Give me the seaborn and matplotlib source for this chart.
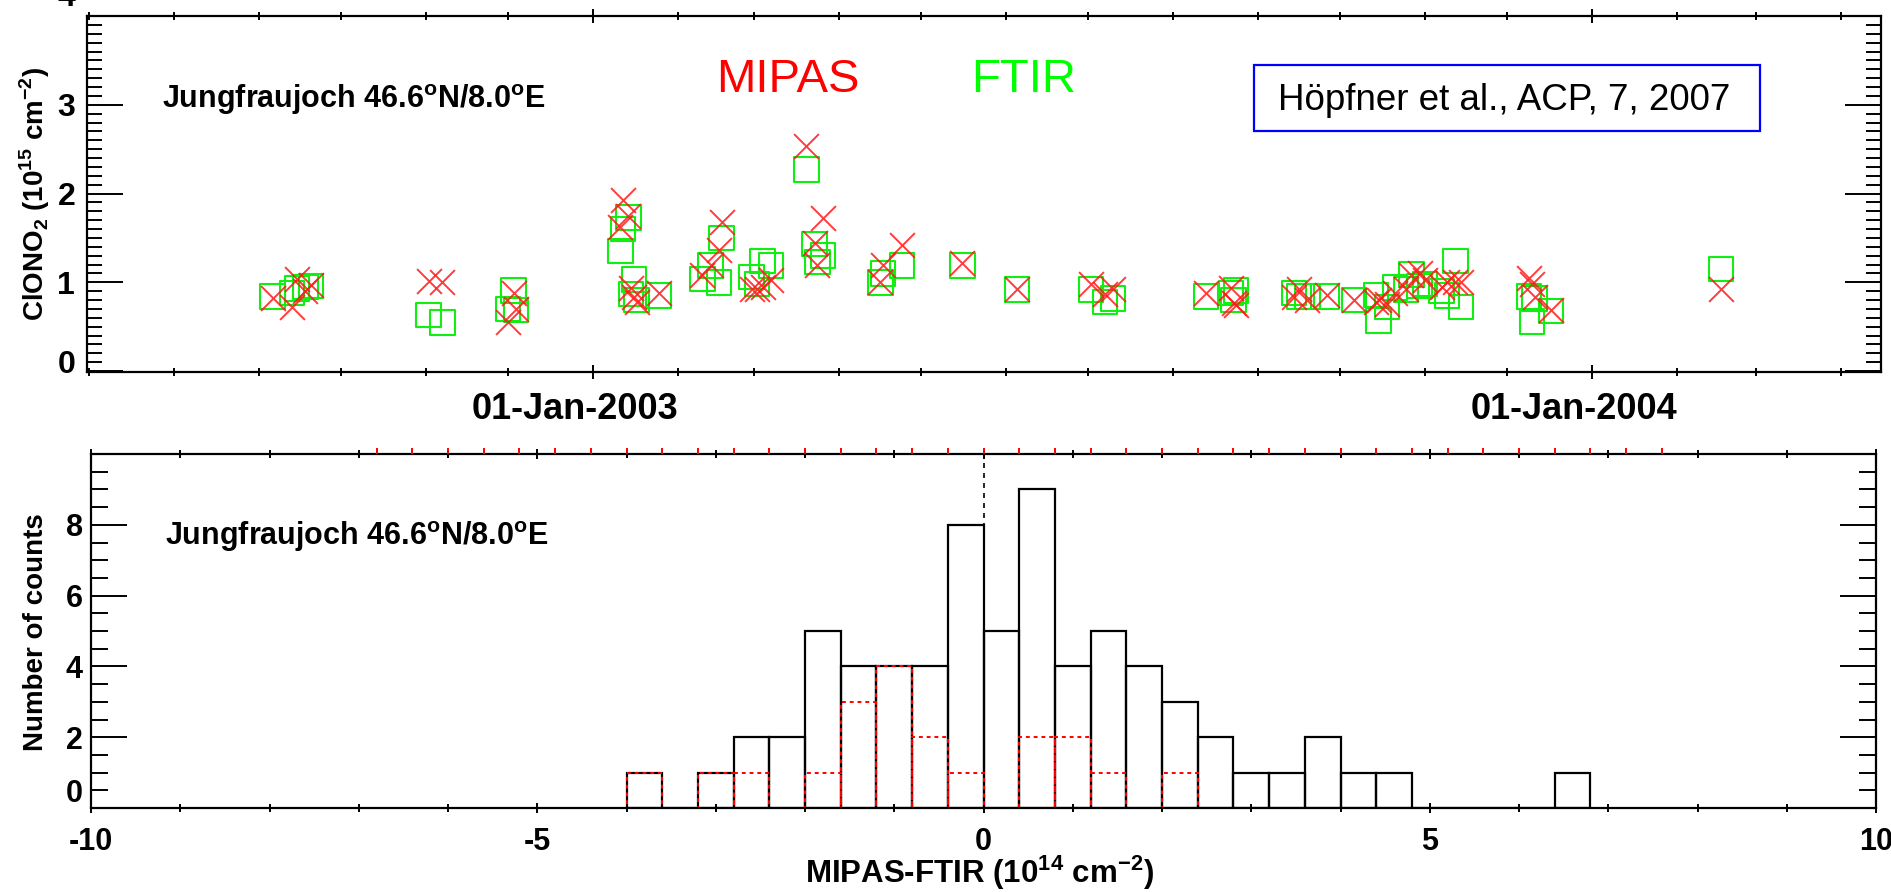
import numpy as np
import pandas as pd
import matplotlib
matplotlib.use("Agg")
import matplotlib.pyplot as plt
import matplotlib.dates as mdates
from matplotlib.patches import Rectangle
from matplotlib.ticker import MultipleLocator
from matplotlib.transforms import ScaledTranslation
import seaborn as sns

# top panel: collocated ClONO2 columns (10^15 cm-2)
obs_dates = [
    "2002-09-06", "2002-09-13", "2002-09-15", "2002-09-18", "2002-09-20",
    "2002-11-02", "2002-11-07", "2002-12-01", "2002-12-03", "2002-12-04",
    "2003-01-11", "2003-01-12", "2003-01-14", "2003-01-15", "2003-01-16",
    "2003-01-17", "2003-01-25", "2003-02-10", "2003-02-13", "2003-02-16",
    "2003-02-17", "2003-02-28", "2003-03-02", "2003-03-04", "2003-03-07",
    "2003-03-20", "2003-03-23", "2003-03-24", "2003-03-26", "2003-04-16",
    "2003-04-17", "2003-04-24", "2003-05-16", "2003-06-05", "2003-07-02",
    "2003-07-07", "2003-07-10", "2003-08-13", "2003-08-22", "2003-08-23",
    "2003-08-24", "2003-09-14", "2003-09-16", "2003-09-19", "2003-09-26",
    "2003-10-06", "2003-10-14", "2003-10-15", "2003-10-18", "2003-10-21",
    "2003-10-25", "2003-10-27", "2003-10-30", "2003-11-01", "2003-11-07",
    "2003-11-09", "2003-11-12", "2003-11-14", "2003-12-09", "2003-12-10",
    "2003-12-11", "2003-12-17", "2004-02-17",
]
ftir_vals = [
    0.84, 0.88, 0.93, 0.95, 0.96, 0.63, 0.55, 0.70, 0.91, 0.69,
    1.35, 1.60, 1.73, 0.87, 1.03, 0.80, 0.85, 1.04, 1.19, 1.00,
    1.50, 1.06, 0.98, 1.24, 1.19, 2.27, 1.43, 1.23, 1.30, 1.00,
    1.10, 1.19, 1.19, 0.92, 0.92, 0.78, 0.82, 0.84, 0.88, 0.80,
    0.91, 0.88, 0.84, 0.84, 0.84, 0.80, 0.86, 0.57, 0.72, 0.94,
    0.92, 1.09, 0.96, 0.98, 0.90, 0.85, 1.24, 0.72, 0.84, 0.56,
    0.82, 0.68, 1.15,
]
mipas_vals = [
    0.82, 0.72, 1.04, 0.90, 0.97, 1.01, 1.00, 0.55, 0.88, 0.70,
    1.62, 1.93, 1.75, 0.94, 0.83, 0.78, 0.88, 1.08, 1.20, 1.36,
    1.68, 0.93, 0.93, 0.95, 1.03, 2.54, 1.44, 1.20, 1.72, 1.00,
    1.20, 1.42, 1.22, 0.92, 0.98, 0.87, 0.92, 0.88, 0.94, 0.77,
    0.75, 0.84, 0.92, 0.80, 0.86, 0.80, 0.78, 0.80, 0.76, 0.88,
    0.92, 1.08, 1.10, 1.03, 0.95, 1.00, 1.00, 1.00, 1.05, 0.98,
    0.84, 0.69, 0.93,
]

# bottom panel: MIPAS-FTIR differences (10^14 cm-2), 0.4 wide bins from -4.0
bin_edges = [round(v, 1) for v in np.arange(-4.0, 7.0, 0.4)]
counts_all = [1, 0, 1, 2, 2, 5, 4, 4, 4, 8, 5, 9, 4, 5, 4, 3, 2, 1, 1, 2, 1, 1, 0, 0, 0, 0, 1]
counts_sub = [1, 0, 1, 1, 0, 1, 3, 4, 2, 1, 0, 2, 2, 1, 0, 1, 0, 0, 0, 0, 0, 0, 0, 0, 0, 0, 0]

RED = "#ff1a1a"
GREEN = "#11ee11"
W, H = 1891, 892


def main():
    sns.set_style("ticks")
    plt.rcParams["font.family"] = ["Liberation Sans", "DejaVu Sans"]
    plt.rcParams["font.weight"] = "bold"
    plt.rcParams["axes.labelweight"] = "bold"
    plt.rcParams["mathtext.fontset"] = "custom"
    plt.rcParams["mathtext.rm"] = "Liberation Sans"
    plt.rcParams["mathtext.bf"] = "Liberation Sans:bold"
    plt.rcParams["axes.unicode_minus"] = False
    plt.rcParams["axes.linewidth"] = 1.6
    plt.rcParams["axes.edgecolor"] = "black"
    for key in ["text.color", "axes.labelcolor", "xtick.color", "ytick.color"]:
        plt.rcParams[key] = "black"

    fig = plt.figure(figsize=(W / 100, H / 100), dpi=100)

    def px_axes(x0, y0, x1, y1):
        return fig.add_axes([x0 / W, 1 - y1 / H, (x1 - x0) / W, (y1 - y0) / H])

    ax1 = px_axes(87, 16, 1881, 372)
    ax2 = px_axes(91, 454, 1876, 808)

    # 1. time series
    obs = pd.DataFrame({
        "date": pd.to_datetime(obs_dates),
        "ftir": ftir_vals,
        "mipas": mipas_vals,
    })
    sns.scatterplot(data=obs, x="date", y="ftir", marker="s", s=310,
                    color=GREEN, facecolor="none", edgecolor=GREEN,
                    linewidth=1.5, ax=ax1, zorder=3)
    sns.scatterplot(data=obs, x="date", y="mipas", marker="x", s=320,
                    color=RED, linewidth=1.4, alpha=0.85, ax=ax1, zorder=4)

    ax1.set_xlim(pd.Timestamp("2002-06-30 05:00"), pd.Timestamp("2004-04-15 12:00"))
    ax1.set_ylim(-0.01, 4.0)
    ax1.xaxis.set_major_locator(mdates.YearLocator())
    ax1.xaxis.set_major_formatter(mdates.DateFormatter("%d-%b-%Y"))
    ax1.xaxis.set_minor_locator(mdates.MonthLocator())
    ax1.yaxis.set_major_locator(MultipleLocator(1))
    ax1.yaxis.set_minor_locator(MultipleLocator(0.1))
    ax1.tick_params(axis="x", which="both", direction="inout", top=True,
                    bottom=True, width=1.4, color="black")
    ax1.tick_params(axis="x", which="major", length=10, pad=9.5, labelsize=26)
    ax1.tick_params(axis="x", which="minor", length=6)
    ax1.tick_params(axis="y", which="both", direction="in", left=True,
                    right=True, width=1.4)
    ax1.tick_params(axis="y", which="major", length=26, pad=8.5, labelsize=23)
    ax1.tick_params(axis="y", which="minor", length=11)
    ax1.set_xlabel("")
    ax1.set_ylabel("ClONO$_2$ (10$^{15}$ cm$^{-2}$)", fontsize=20, fontweight="bold")
    ax1.yaxis.set_label_coords(-0.0195, 0.5)

    ax1.text(0.0418, 0.742, "Jungfraujoch 46.6$^{\\mathrm{o}}$N/8.0$^{\\mathrm{o}}$E",
             transform=ax1.transAxes, fontsize=22, ha="left", va="baseline")
    ax1.text(0.3506, 0.787, "MIPAS", transform=ax1.transAxes, fontsize=34,
             fontweight="normal", color="#ff0000", ha="left", va="baseline")
    ax1.text(0.4928, 0.787, "FTIR", transform=ax1.transAxes, fontsize=34,
             fontweight="normal", color="#00ff00", ha="left", va="baseline")
    ax1.add_patch(Rectangle((0.6505, 0.677), 0.282, 0.1854, transform=ax1.transAxes,
                            fill=False, edgecolor="#0000ff", linewidth=1.6, zorder=5))
    ax1.text(0.664, 0.736, "Höpfner et al., ACP, 7, 2007", transform=ax1.transAxes,
             fontsize=26.5, fontweight="normal", ha="left", va="baseline", zorder=6)

    # 2. histogram of the differences
    red_axis = ax2.twiny()
    hist = pd.DataFrame({
        "diff": [(a + b) / 2 for a, b in zip(bin_edges[:-1], bin_edges[1:])],
        "all": counts_all,
        "sub": counts_sub,
    })
    sns.histplot(data=hist, x="diff", weights="all", bins=bin_edges, element="bars",
                 fill=False, color="black", linewidth=1.6, ax=ax2)
    sns.histplot(data=hist, x="diff", weights="sub", bins=bin_edges, element="bars",
                 fill=False, color="#ff0000", linewidth=1.4,
                 linestyle=(0, (2, 2)), ax=ax2)
    ax2.axvline(0, color="black", linestyle=(0, (3, 3)), linewidth=1.2, zorder=0)

    ax2.set_xlim(-10, 10)
    ax2.set_ylim(0, 10)
    ax2.xaxis.set_major_locator(MultipleLocator(5))
    ax2.xaxis.set_minor_locator(MultipleLocator(1))
    ax2.yaxis.set_major_locator(MultipleLocator(2))
    ax2.yaxis.set_minor_locator(MultipleLocator(0.5))
    ax2.tick_params(axis="x", which="both", direction="inout", top=True,
                    bottom=True, width=1.4)
    ax2.tick_params(axis="x", which="major", length=7.5, pad=10, labelsize=22)
    ax2.tick_params(axis="x", which="minor", length=5.5)
    ax2.tick_params(axis="y", which="both", direction="in", left=True,
                    right=True, width=1.4)
    ax2.tick_params(axis="y", which="major", length=26, pad=6, labelsize=22)
    ax2.tick_params(axis="y", which="minor", length=12)
    ax2.set_xlabel("MIPAS-FTIR (10$^{14}$ cm$^{-2}$)", fontsize=22.5,
                   fontweight="bold", va="baseline")
    ax2.set_ylabel("Number of counts", fontsize=20, fontweight="bold")
    ax2.xaxis.set_label_coords(0.498, -0.212)
    ax2.yaxis.set_label_coords(-0.0235, 0.497)
    ax2.text(0.0415, 0.743, "Jungfraujoch 46.6$^{\\mathrm{o}}$N/8.0$^{\\mathrm{o}}$E",
             transform=ax2.transAxes, fontsize=22, ha="left", va="baseline")

    red_axis.set_xlim(-10, 10)
    red_axis.set_xticks(np.arange(-6.8, 7.7, 0.4))
    red_axis.tick_params(axis="x", which="major", top=True, bottom=False,
                         direction="out", length=4.5, width=1.4, color="#ff0000",
                         labeltop=False, labelbottom=False)
    red_axis.xaxis.set_minor_locator(plt.NullLocator())
    for spine in red_axis.spines.values():
        spine.set_visible(False)

    # IDL-like label placement: end labels pushed upward, dates a bit left
    fig.canvas.draw()

    def shift(label, dx, dy):
        label.set_transform(label.get_transform()
                            + ScaledTranslation(dx / 100, dy / 100, fig.dpi_scale_trans))

    def lift(ax, value, px, hide=False):
        for tick in ax.yaxis.get_major_ticks():
            if abs(tick.get_loc() - value) < 1e-6:
                if hide:
                    tick.label1.set_visible(False)
                else:
                    shift(tick.label1, 0, px)

    lift(ax1, 0, 10)
    lift(ax1, 4, 21)
    lift(ax2, 0, 18)
    lift(ax2, 10, 0, hide=True)
    for tick in ax1.xaxis.get_major_ticks():
        shift(tick.label1, -18, 0)

    fig.savefig("out.png", dpi=100)
    plt.close(fig)


if __name__ == "__main__":
    main()
